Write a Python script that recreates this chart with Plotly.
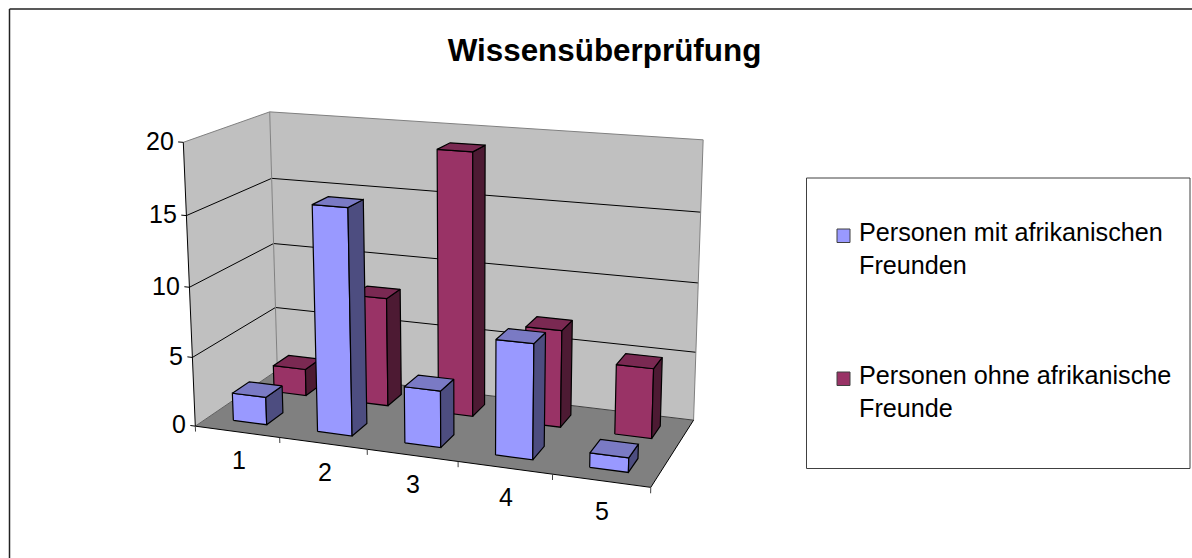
import numpy as np
import plotly.graph_objects as go

# --- data ---
categories = ["1", "2", "3", "4", "5"]
series_names = ["Personen mit afrikanischen<br>Freunden", "Personen ohne afrikanische<br>Freunde"]
values_with = [2, 16, 4, 8, 1]
values_without = [2, 8, 19, 7, 5]
z_ticks = [0, 5, 10, 15, 20]
title_text = "<b>Wissensüberprüfung</b>"

# --- perspective camera of the chart's 3D box (category, row, value) -> page pixel ---
EYE = np.array([1.8896, -5.003, 1.5166])
CENTER = np.array([0.068841, 0.2905, 0.16033])
UP = np.array([0.0013061, -0.021331, 1.8187])
BOX_X, BOX_Y = 1.6167, 0.63488
FOCAL, PX0, PY0 = 1626.0, 492.44, 222.22
_fw = (CENTER - EYE) / np.linalg.norm(CENTER - EYE)
_r = np.cross(_fw, UP); _r = _r / np.linalg.norm(_r)
_u = np.cross(_r, _fw)

def project(x, y, z):
    w = np.array([(x - 3) / 5 * BOX_X, (y - 1) / 2 * BOX_Y, (z - 10) / 20])
    d = w - EYE
    zc = d @ _fw
    return PX0 + FOCAL * (d @ _r) / zc, PY0 - FOCAL * (d @ _u) / zc

def poly(corners):
    pp = [project(*c) for c in corners]
    pp.append(pp[0])
    return [float(a[0]) for a in pp] + [None], [float(a[1]) for a in pp] + [None]

def faces(values, row):
    y0, y1 = row + 0.3, row + 0.7
    fr, si, to = ([], []), ([], []), ([], [])
    for i, v in enumerate(values):
        x0, x1 = i + 1 - 0.2, i + 1 + 0.2
        for target, corners in (
            (fr, [(x0, y0, 0), (x1, y0, 0), (x1, y0, v), (x0, y0, v)]),
            (si, [(x1, y0, 0), (x1, y1, 0), (x1, y1, v), (x1, y0, v)]),
            (to, [(x0, y0, v), (x1, y0, v), (x1, y1, v), (x0, y1, v)]),
        ):
            a, b = poly(corners)
            target[0].extend(a); target[1].extend(b)
    return fr, si, to

def area(corners, fill):
    a, b = poly(corners)
    return go.Scatter(x=a, y=b, mode="lines", fill="toself", fillcolor=fill,
                      line=dict(width=0), hoverinfo="skip", showlegend=False)

def seg(p, q, color="#000000", width=1):
    a, b = project(*p), project(*q)
    return go.Scatter(x=[float(a[0]), float(b[0])], y=[float(a[1]), float(b[1])], mode="lines",
                      line=dict(color=color, width=width), hoverinfo="skip", showlegend=False)

fig = go.Figure()
xl, xr, yf, yb, ztop = 0.5, 5.5, 0, 2, 20
fig.add_trace(area([(xl,yf,0),(xl,yb,0),(xl,yb,ztop),(xl,yf,ztop)], "#C0C0C0"))
fig.add_trace(area([(xl,yb,0),(xr,yb,0),(xr,yb,ztop),(xl,yb,ztop)], "#C0C0C0"))
fig.add_trace(area([(xl,yf,0),(xr,yf,0),(xr,yb,0),(xl,yb,0)], "#808080"))
for t in z_ticks[1:-1]:
    fig.add_trace(seg((xl,yf,t),(xl,yb,t)))
    fig.add_trace(seg((xl,yb,t),(xr,yb,t)))
fig.add_trace(seg((xl,yf,ztop),(xl,yb,ztop),"#808080"))
fig.add_trace(seg((xl,yb,ztop),(xr,yb,ztop),"#808080"))
fig.add_trace(seg((xl,yb,0),(xl,yb,ztop),"#808080"))
fig.add_trace(seg((xr,yb,0),(xr,yb,ztop),"#808080"))
fig.add_trace(seg((xl,yb,0),(xr,yb,0),"#404040"))
fig.add_trace(seg((xl,yf,0),(xl,yb,0),"#606060"))
fig.add_trace(seg((xr,yf,0),(xr,yb,0)))
fig.add_trace(seg((xl,yf,0),(xr,yf,0)))
fig.add_trace(seg((xl,yf,0),(xl,yf,ztop)))
for t in z_ticks:
    fig.add_trace(seg((xl-0.06,yf,t),(xl,yf,t)))
for k in range(6):
    fig.add_trace(seg((xl+k,yf,-0.4),(xl+k,yf,0), "#404040"))

for values, row, cols in ((values_without, 1, ("#993366", "#4D1A33", "#7A2952")),
                          (values_with, 0, ("#9999FF", "#4D4D80", "#7A7AC4"))):
    for (xs, ys), col in zip(faces(values, row), cols):
        fig.add_trace(go.Scatter(x=xs, y=ys, mode="lines", fill="toself", fillcolor=col,
                                 line=dict(color="#000000", width=1.2), hoverinfo="skip", showlegend=False))

font = "Liberation Sans, Arial, sans-serif"
ann = []
for t in z_ticks:
    a = project(xl - 0.085, yf, t)
    ann.append(dict(x=float(a[0]), y=float(a[1]) - 1, text=str(t), xanchor="right", yanchor="middle",
                    showarrow=False, font=dict(size=25, family=font, color="#000")))
for i, cat in enumerate(categories):
    a = project(i + 1, yf, -2.05)
    ann.append(dict(x=float(a[0]) + 1, y=float(a[1]), text=cat, xanchor="center", yanchor="middle",
                    showarrow=False, font=dict(size=25, family=font, color="#000")))
for name, ypos in zip(series_names, (248.5, 391.5)):
    ann.append(dict(x=856.5, y=ypos, text=name, xanchor="left", yanchor="middle", align="left",
                    showarrow=False, font=dict(size=25.2, family=font, color="#000")))

shapes = [
    dict(type="rect", x0=806.5, y0=178, x1=1190, y1=468.5, line=dict(color="#404040", width=1), fillcolor="#fff", layer="below"),
    dict(type="rect", x0=837, y0=229, x1=850, y1=242.5, line=dict(color="#404040", width=1), fillcolor="#9999FF"),
    dict(type="rect", x0=837, y0=372, x1=850, y1=385.5, line=dict(color="#404040", width=1), fillcolor="#993366"),
    dict(type="line", x0=9.5, y0=9, x1=9.5, y1=558, line=dict(color="#222", width=1.5)),
    dict(type="line", x0=9.5, y0=9, x1=1192, y1=9, line=dict(color="#222", width=1.5)),
]

fig.update_layout(
    width=1192, height=558, margin=dict(l=0, r=0, t=0, b=0),
    paper_bgcolor="#fff", plot_bgcolor="#fff", showlegend=False,
    xaxis=dict(range=[0, 1192], visible=False, fixedrange=True),
    yaxis=dict(range=[558, 0], visible=False, fixedrange=True),
    title=dict(text=title_text, x=604.5/1192, xanchor="center", y=1-50/558, yanchor="middle",
               font=dict(size=31.4, family=font, color="#000")),
    annotations=ann, shapes=shapes,
)
fig.write_html("out.html", config=dict(displayModeBar=False),
               post_script="document.body.style.margin='0';document.body.style.overflow='hidden';")
